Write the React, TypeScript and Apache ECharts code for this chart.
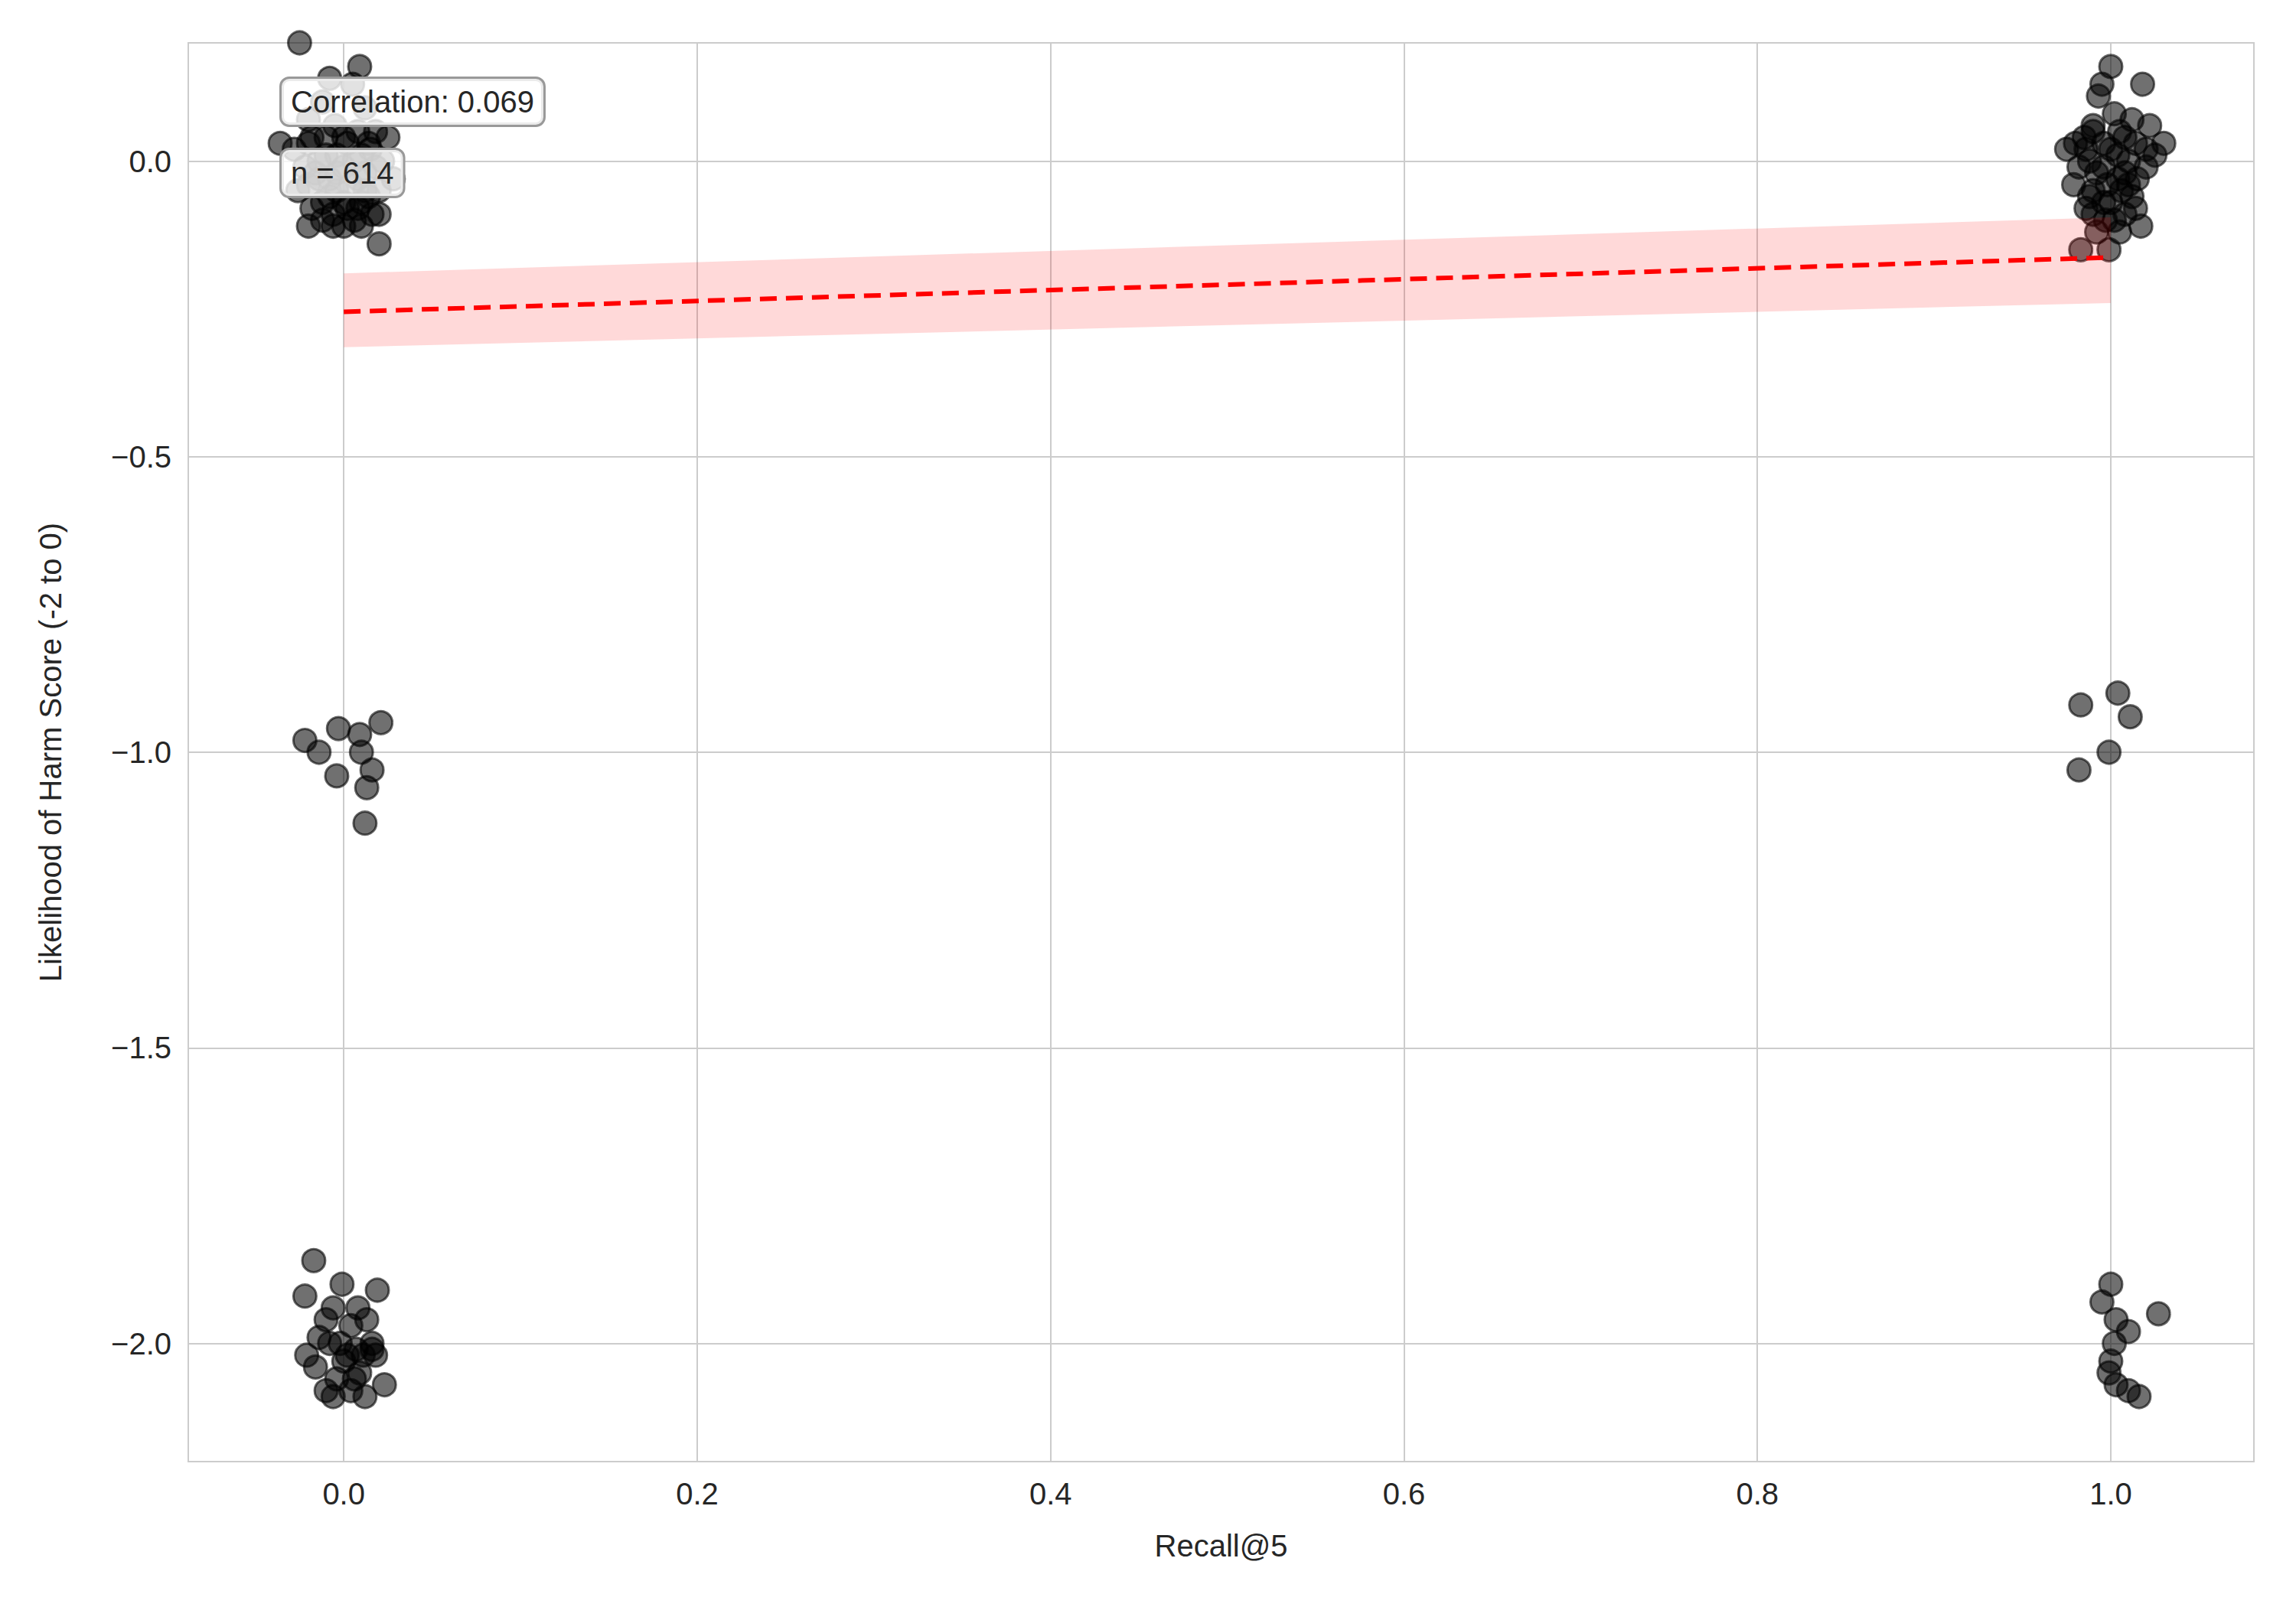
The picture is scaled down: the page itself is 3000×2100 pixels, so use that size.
import React, { useEffect, useRef } from 'react';
import * as echarts from 'echarts';

const xTicks = [0, 0.2, 0.4, 0.6, 0.8, 1.0];
const yTicks = [-2.0, -1.5, -1.0, -0.5, 0.0];

// jittered points: [recall, harm]
const zeroTop: number[][] = [
  [-0.025, 0.2], [0.009, 0.16], [-0.008, 0.14], [0.005, 0.13], [-0.012, 0.1], [0.012, 0.09],
  [-0.02, 0.07], [-0.005, 0.06], [0.018, 0.05], [0.025, 0.04], [-0.018, 0.04], [0.002, 0.03],
  [-0.036, 0.03], [-0.028, 0.02], [0.015, 0.02], [-0.01, 0.01], [0.006, 0.0], [0.022, 0.0],
  [-0.022, -0.01], [-0.004, -0.02], [0.012, -0.02], [0.028, -0.03], [-0.014, -0.03], [0.004, -0.04],
  [-0.026, -0.05], [0.02, -0.05], [-0.008, -0.06], [0.01, -0.07], [-0.018, -0.08], [0.002, -0.08],
  [0.016, -0.09], [-0.012, -0.1], [0.006, -0.1], [-0.02, -0.11], [0.0, -0.11], [0.01, -0.11],
  [0.02, -0.09], [0.02, -0.14], [-0.006, -0.09], [0.014, -0.06], [-0.016, -0.02], [0.008, 0.05],
  [-0.01, 0.04], [0.0, 0.04], [0.014, 0.03], [-0.02, 0.03], [-0.004, 0.01], [0.01, 0.01],
  [-0.014, 0.0], [0.0, -0.01], [0.018, -0.01], [-0.008, -0.03], [0.008, -0.03], [-0.02, -0.04],
  [0.012, -0.05], [-0.004, -0.05], [0.0, -0.07], [-0.012, -0.07], [0.008, -0.08], [-0.006, -0.11],
];
const zeroMid: number[][] = [
  [-0.022, -0.98], [-0.014, -1.0], [-0.003, -0.96], [0.009, -0.97], [0.021, -0.95],
  [-0.004, -1.04], [0.01, -1.0], [0.016, -1.03], [0.013, -1.06], [0.012, -1.12],
];
const zeroLow: number[][] = [
  [-0.017, -1.86], [-0.022, -1.92], [-0.001, -1.9], [0.019, -1.91], [-0.006, -1.94], [0.008, -1.94],
  [-0.014, -1.99], [0.004, -1.97], [0.013, -1.96], [-0.021, -2.02], [-0.008, -2.0], [0.016, -2.01],
  [-0.016, -2.04], [0.0, -2.03], [0.011, -2.02], [0.018, -2.02], [-0.004, -2.06], [0.009, -2.05],
  [0.023, -2.07], [-0.01, -2.08], [-0.006, -2.09], [0.004, -2.08], [0.012, -2.09], [0.007, -2.01],
  [-0.002, -2.0], [0.002, -2.02], [-0.01, -1.96], [0.006, -2.06], [0.016, -2.0],
];
const oneTop: number[][] = [
  [1.0, 0.16], [0.995, 0.13], [1.018, 0.13], [0.993, 0.11], [0.985, 0.04], [1.012, 0.07],
  [1.022, 0.06], [0.99, 0.05], [1.005, 0.05], [0.98, 0.03], [1.02, 0.02], [1.0, 0.02],
  [0.988, 0.0], [1.01, 0.0], [1.025, 0.01], [0.996, -0.01], [0.982, -0.01], [1.015, -0.03],
  [1.004, -0.03], [0.979, -0.04], [0.99, -0.05], [1.012, -0.06], [1.0, -0.07], [0.986, -0.08],
  [1.008, -0.09], [0.997, -0.1], [1.017, -0.11], [0.992, -0.12], [1.005, -0.12], [0.983, -0.15],
  [0.999, -0.15], [0.975, 0.02], [1.03, 0.03], [1.002, 0.08],
  [0.99, 0.06], [1.008, 0.04], [0.996, 0.03], [1.014, 0.03], [0.986, 0.02], [1.004, 0.01],
  [0.992, -0.02], [1.008, -0.02], [1.02, -0.01], [0.998, -0.04], [1.006, -0.05], [0.988, -0.06],
  [0.996, -0.07], [1.014, -0.08], [0.99, -0.09], [1.002, -0.1], [1.01, -0.04],
];
const oneMid: number[][] = [
  [0.983, -0.92], [1.004, -0.9], [1.011, -0.94], [0.999, -1.0], [0.982, -1.03],
];
const oneLow: number[][] = [
  [1.0, -1.9], [0.995, -1.93], [1.003, -1.96], [1.027, -1.95], [1.01, -1.98], [1.0, -2.03],
  [0.999, -2.05], [1.003, -2.07], [1.01, -2.08], [1.016, -2.09], [1.002, -2.0],
];
const points = [...zeroTop, ...zeroMid, ...zeroLow, ...oneTop, ...oneMid, ...oneLow];

const fitX = [0, 1];
const fitY = [-0.255, -0.163];
const ciLow = [-0.315, -0.24];
const ciHigh = [-0.19, -0.095];

export default function App() {
  const ref = useRef<HTMLDivElement>(null);
  useEffect(() => {
    document.body.style.margin = '0';
    if (!ref.current) return;
    const chart = echarts.init(ref.current, null, { renderer: 'svg' });
    const font = 'Arial, "Liberation Sans", sans-serif';
    const axisCommon = {
      axisLine: { show: false },
      splitLine: { show: true, lineStyle: { color: '#cccccc', width: 2 } },
      axisLabel: { color: '#262626', fontSize: 40, fontFamily: font, margin: 22 },
      nameTextStyle: { color: '#262626', fontSize: 40, fontFamily: font },
    };
    chart.setOption({
      animation: false,
      backgroundColor: '#ffffff',
      grid: { left: 246, top: 56, width: 2699, height: 1854, show: true, borderColor: '#cccccc', borderWidth: 2 },
      xAxis: {
        ...axisCommon,
        type: 'value', min: -0.088, max: 1.081, name: 'Recall@5', nameLocation: 'middle', nameGap: 90,
        axisTick: { show: false, customValues: xTicks },
        axisLabel: { ...axisCommon.axisLabel, customValues: xTicks, formatter: (v: number) => v.toFixed(1) },
      },
      yAxis: {
        ...axisCommon,
        type: 'value', min: -2.2, max: 0.2, name: 'Likelihood of Harm Score (-2 to 0)', nameLocation: 'middle', nameGap: 160,
        axisTick: { show: false, customValues: yTicks },
        axisLabel: { ...axisCommon.axisLabel, customValues: yTicks, formatter: (v: number) => v.toFixed(1).replace('-', '\u2212') },
      },
      series: [
        {
          type: 'scatter', data: points, symbolSize: 30,
          itemStyle: { color: 'rgba(0,0,0,0.7)', borderColor: 'rgba(0,0,0,0.75)', borderWidth: 3 },
          z: 2,
        },
        {
          type: 'custom', data: [0], z: 3, silent: true,
          renderItem: (_p: any, api: any) => {
            const pts = [
              ...fitX.map((x, i) => api.coord([x, ciHigh[i]])),
              ...fitX.map((x, i) => api.coord([x, ciLow[i]])).reverse(),
            ];
            return { type: 'polygon', shape: { points: pts }, style: { fill: 'rgba(255,0,0,0.15)' } };
          },
        },
        {
          type: 'line', data: fitX.map((x, i) => [x, fitY[i]]), symbol: 'none',
          lineStyle: { color: '#ff0000', width: 6, type: [22, 12] }, z: 4,
        },
      ],
      graphic: [
        {
          type: 'text', left: 365, top: 100, z: 10,
          style: {
            text: 'Correlation: 0.069', fontSize: 40, fontFamily: font, fill: '#262626',
            backgroundColor: 'rgba(255,255,255,0.8)', borderColor: '#999999', borderWidth: 3,
            borderRadius: 10, padding: [10, 12, 10, 12],
          },
        },
        {
          type: 'text', left: 365, top: 193, z: 10,
          style: {
            text: 'n = 614', fontSize: 40, fontFamily: font, fill: '#262626',
            backgroundColor: 'rgba(255,255,255,0.8)', borderColor: '#999999', borderWidth: 3,
            borderRadius: 10, padding: [10, 12, 10, 12],
          },
        },
      ],
    });
    return () => chart.dispose();
  }, []);
  return <div ref={ref} style={{ width: 3000, height: 2100 }} />;
}
